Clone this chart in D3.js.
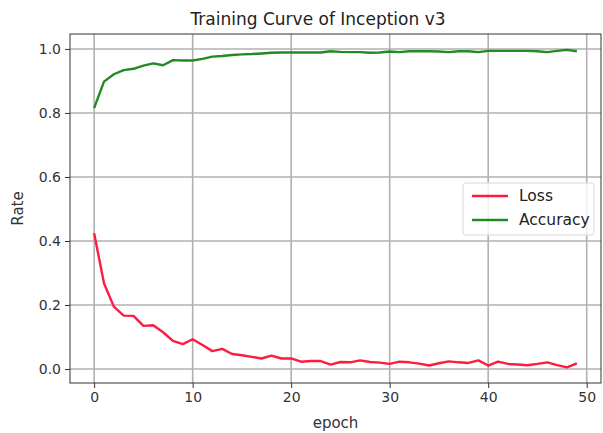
<!DOCTYPE html>
<html><head><meta charset="utf-8">
<script src="https://cdn.jsdelivr.net/npm/d3@7"></script>
<style>body{margin:0;background:#fff}svg{display:block;font-family:"DejaVu Sans",sans-serif}</style>
</head><body><svg id="c" width="603" height="433"></svg>
<script>
const epochs = d3.range(0, 50);
const lossValues = [0.424,0.268,0.195,0.167,0.166,0.135,0.137,0.115,0.088,0.078,
0.093,0.075,0.056,0.063,0.047,0.043,0.038,0.033,0.042,0.033,
0.033,0.023,0.025,0.025,0.014,0.022,0.021,0.027,0.022,0.020,
0.016,0.023,0.021,0.017,0.011,0.018,0.024,0.021,0.019,0.027,
0.011,0.023,0.016,0.014,0.012,0.016,0.021,0.012,0.005,0.018];
const accValues = [0.815,0.898,0.921,0.934,0.938,0.948,0.955,0.949,0.965,0.964,
0.964,0.969,0.976,0.978,0.981,0.983,0.984,0.986,0.988,0.989,
0.989,0.989,0.989,0.989,0.993,0.991,0.990,0.990,0.988,0.989,
0.992,0.990,0.993,0.993,0.993,0.992,0.990,0.993,0.993,0.990,
0.994,0.994,0.994,0.994,0.994,0.993,0.990,0.994,0.997,0.993];
const xTicks = [0,10,20,30,40,50];
const yTicks = [0.0,0.2,0.4,0.6,0.8,1.0];
const seriesNames = ["Loss","Accuracy"];
const seriesColors = ["#ff1a40","#238a23"];

const svg = d3.select("#c");
const L = 70, R = 601, T = 34, B = 383;
const x = d3.scaleLinear().domain([-2.45, 51.45]).range([L, R]);
const y = d3.scaleLinear().domain([-0.0436, 1.0467]).range([B, T]);

const g = svg.append("g");
g.selectAll(".gx").data(xTicks).join("line")
  .attr("x1", d => x(d)).attr("x2", d => x(d)).attr("y1", T).attr("y2", B)
  .attr("stroke", "#b0b0b0").attr("stroke-width", 1.6);
g.selectAll(".gy").data(yTicks).join("line")
  .attr("y1", d => y(d)).attr("y2", d => y(d)).attr("x1", L).attr("x2", R)
  .attr("stroke", "#b0b0b0").attr("stroke-width", 1.6);

const xAxis = d3.axisBottom(x).tickValues(xTicks).tickFormat(d3.format("d")).tickSize(5).tickPadding(4);
const yAxis = d3.axisLeft(y).tickValues(yTicks).tickFormat(d3.format(".1f")).tickSize(5).tickPadding(4);
const gx = svg.append("g").attr("transform", `translate(0,${B})`).call(xAxis);
const gy = svg.append("g").attr("transform", `translate(${L},0)`).call(yAxis);
[gx, gy].forEach(a => {
  a.select(".domain").remove();
  a.selectAll("line").attr("stroke", "#333");
  a.selectAll("text").attr("fill", "#333").style("font-size", "14px").style("font-family", "DejaVu Sans");
});

const lineGen = vals => d3.line().x((d, i) => x(epochs[i])).y(d => y(d))(vals);
[lossValues, accValues].forEach((vals, k) => {
  svg.append("path").attr("d", lineGen(vals)).attr("fill", "none")
    .attr("stroke", seriesColors[k]).attr("stroke-width", 2.4).attr("stroke-linejoin", "round");
});

svg.append("rect").attr("x", L).attr("y", T).attr("width", R - L).attr("height", B - T)
  .attr("fill", "none").attr("stroke", "#333").attr("stroke-width", 1);

svg.append("text").attr("x", 318).attr("y", 25).attr("text-anchor", "middle")
  .style("font-size", "17px").attr("fill", "#222").text("Training Curve of Inception v3");
svg.append("text").attr("x", (L + R) / 2).attr("y", 428).attr("text-anchor", "middle")
  .style("font-size", "15px").attr("fill", "#333").text("epoch");
svg.append("text").attr("transform", `translate(23,${(T + B) / 2}) rotate(-90)`).attr("text-anchor", "middle")
  .style("font-size", "15px").attr("fill", "#333").text("Rate");

const lg = svg.append("g");
lg.append("rect").attr("x", 463).attr("y", 183).attr("width", 131).attr("height", 52).attr("rx", 3)
  .attr("fill", "#fff").attr("fill-opacity", 0.8).attr("stroke", "#d8d8d8");
seriesNames.forEach((n, i) => {
  const yy = 196 + i * 24;
  lg.append("line").attr("x1", 472).attr("x2", 508).attr("y1", yy).attr("y2", yy)
    .attr("stroke", seriesColors[i]).attr("stroke-width", 2.4);
  lg.append("text").attr("x", 519).attr("y", yy + 5).style("font-size", "15.5px").attr("fill", "#222").text(n);
});
</script></body></html>
